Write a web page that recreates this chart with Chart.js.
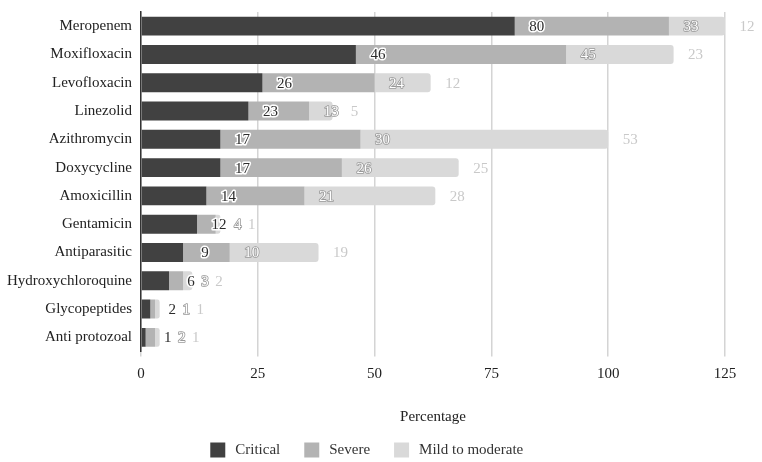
<!DOCTYPE html>
<html>
<head>
<meta charset="utf-8">
<script src="https://cdn.jsdelivr.net/npm/chart.js@4.4.1/dist/chart.umd.min.js"></script>
<style>
  html, body { margin: 0; padding: 0; background: #fff; }
  #wrap { position: relative; width: 762px; height: 462px; }
</style>
</head>
<body>
<div id="wrap"><canvas id="chart"></canvas></div>
<script>
// ----- dados -----
const drugs = ["Meropenem", "Moxifloxacin", "Levofloxacin", "Linezolid", "Azithromycin",
  "Doxycycline", "Amoxicillin", "Gentamicin", "Antiparasitic", "Hydroxychloroquine",
  "Glycopeptides", "Anti protozoal"];
const critical = [80, 46, 26, 23, 17, 17, 14, 12, 9, 6, 2, 1];
const severe   = [33, 45, 24, 13, 30, 26, 21, 4, 10, 3, 1, 2];
const mild     = [12, 23, 12, 5, 53, 25, 28, 1, 19, 2, 1, 1];
const xTicks   = [0, 25, 50, 75, 100, 125];

const FONT = "'Liberation Serif', 'DejaVu Serif', serif";

// estilo dos rótulos por série: preenchimento / contorno
const labelStyle = [
  { fill: "#2b2b2b", stroke: "#ffffff", width: 3 },
  { fill: "#ffffff", stroke: "#999999", width: 1.6 },
  { fill: "#c9c9c9", stroke: "#ffffff", width: 2 },
];

// rótulo logo após o fim de cada segmento (com espaçamento mínimo)
const endLabels = {
  id: "endLabels",
  afterDatasetsDraw(chart) {
    const ctx = chart.ctx;
    const metas = chart.data.datasets.map((_, di) => chart.getDatasetMeta(di));
    ctx.save();
    ctx.font = "15px " + FONT;
    ctx.textAlign = "center";
    ctx.textBaseline = "middle";
    ctx.lineJoin = "round";
    chart.data.labels.forEach((_, i) => {
      let prev = -Infinity;
      metas.forEach((meta, di) => {
        const bar = meta.data[i];
        const st = labelStyle[di];
        const txt = String(chart.data.datasets[di].data[i]);
        const x = Math.max(bar.x + 22, prev + 14);
        prev = x;
        const y = bar.y + 1;
        ctx.lineWidth = st.width;
        ctx.strokeStyle = st.stroke;
        ctx.strokeText(txt, x, y);
        ctx.fillStyle = st.fill;
        ctx.fillText(txt, x, y);
      });
    });
    ctx.restore();
  }
};

new Chart(document.getElementById("chart"), {
  type: "bar",
  data: {
    labels: drugs,
    datasets: [
      { label: "Critical", data: critical, backgroundColor: "#414141" },
      { label: "Severe", data: severe, backgroundColor: "#b3b3b3" },
      { label: "Mild to moderate", data: mild, backgroundColor: "#d9d9d9", borderRadius: 3, borderSkipped: "start" },
    ],
  },
  options: {
    indexAxis: "y",
    responsive: true,
    maintainAspectRatio: false,
    animation: false,
    datasets: { bar: { barPercentage: 0.67, categoryPercentage: 1 } },
    layout: { padding: { top: 12, right: 37, left: 6, bottom: -8 } },
    plugins: {
      tooltip: { enabled: false },
      legend: {
        position: "bottom",
        labels: {
          boxWidth: 20, boxHeight: 20, padding: 21.5,
          color: "#333", font: { family: FONT, size: 15 },
          // borda branca larga: caixa visível de 15px com mais folga até o texto
          generateLabels: (chart) =>
            Chart.defaults.plugins.legend.labels.generateLabels(chart).map(it =>
              Object.assign(it, { lineWidth: 5, strokeStyle: "#ffffff" })),
        },
      },
    },
    scales: {
      x: {
        stacked: true, min: 0, max: 125,
        afterBuildTicks: (s) => { s.ticks = xTicks.map(v => ({ value: v })); },
        grid: { color: "#d4d4d4", lineWidth: 1.5, drawTicks: true, tickLength: 5 },
        border: { display: false },
        ticks: { color: "#222", font: { family: FONT, size: 15 }, padding: 9 },
        title: { display: true, text: "Percentage", color: "#222",
                 font: { family: FONT, size: 15 }, padding: { top: 16, bottom: -8 } },
      },
      y: {
        stacked: true,
        grid: { display: false },
        border: { display: true, color: "#333", width: 1.5 },
        ticks: { color: "#222", font: { family: FONT, size: 15 }, padding: 1 },
      },
    },
  },
  plugins: [endLabels],
});
</script>
</body>
</html>
